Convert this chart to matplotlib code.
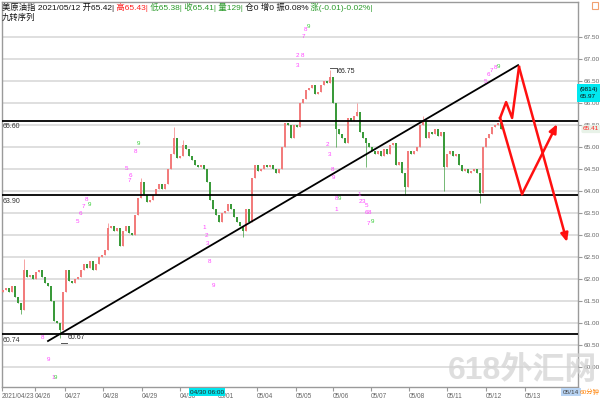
import matplotlib
matplotlib.use("Agg")
import matplotlib.pyplot as plt
from matplotlib.patches import Rectangle

plt.rcParams['font.family'] = ['Liberation Sans', 'Noto Sans CJK SC', 'DejaVu Sans']

# --- hourly closes, 2021/04/23 .. 2021/05/12 (bar index = position) ---
closes = [
    # 04/23 - 04/28
    61.75, 61.80, 61.70, 61.85, 61.60, 61.45, 61.30, 62.20, 62.05, 62.10,
    62.00, 62.15, 62.20, 62.05, 61.90, 61.85, 61.50, 61.05, 61.00, 60.85,
    61.70, 62.20, 61.95, 61.90, 62.00, 62.05, 62.20, 62.35, 62.25, 62.40,
    62.20, 62.35, 62.50, 62.55, 62.65, 63.15, 63.20, 63.10, 63.15, 62.75,
    63.10, 63.20, 63.05,
    # 04/28 - 05/04
    63.00, 63.45, 63.85, 64.20, 63.90, 63.75, 63.80, 63.90, 64.05, 64.15,
    64.05, 64.15, 64.50, 64.85, 65.20, 64.75, 64.80, 65.05, 64.95, 64.80,
    64.70, 64.60, 64.55, 64.60, 64.50, 64.20, 63.80, 63.60, 63.45, 63.30,
    63.50, 63.55, 63.70, 63.60, 63.40, 63.30, 63.20, 63.10, 63.60, 63.30,
    64.30, 64.60, 64.45,
    # 05/04 - 05/08
    64.50, 64.60, 64.55, 64.60, 64.50, 64.40, 64.50, 65.00, 65.55, 65.50,
    65.20, 65.50, 65.45, 66.00, 66.10, 66.30, 66.35, 66.40, 66.20, 66.25,
    66.40, 66.50, 66.45, 66.60, 66.00, 65.40, 65.30, 65.20, 65.10, 65.65,
    65.60, 65.70, 65.80, 65.35, 65.20, 65.10, 65.00, 64.90, 64.85, 64.90,
    64.80, 64.95, 64.85,
    # 05/08 - 05/12
    65.05, 65.10, 64.60, 64.65, 64.40, 64.10, 64.90, 64.85, 64.90, 65.00,
    65.50, 65.60, 65.20, 65.35, 65.30, 65.40, 65.25, 65.35, 64.55, 64.85,
    64.90, 64.80, 64.85, 64.60, 64.45, 64.50, 64.40, 64.45, 64.50, 64.40,
    63.95, 65.00, 65.20, 65.30, 65.45, 65.50, 65.55, 65.41,
]
first_open = 61.70

# notable wick extremes: bar -> price
wick_high = {7: 62.45, 35: 63.27, 46: 64.30, 57: 65.45, 60: 65.15,
             109: 66.75, 118: 66.00, 140: 65.70}
wick_low = {6: 61.20, 19: 60.67, 80: 62.95, 111: 65.00, 121: 64.55,
            134: 63.90, 147: 64.00, 159: 63.73}

# support / resistance lines
level_values = [65.60, 63.90, 60.74]
level_labels = ['65.60', '63.90', '60.74']

# trend line and projection paths (bar, price)
trend_x = [15.0, 171.7]
trend_y = [60.59, 66.86]
proj_a_x = [165.7, 167.7, 169.7, 172.0, 188.0]
proj_a_y = [65.66, 66.02, 65.66, 66.82, 62.84]
proj_b_x = [165.7, 173.0, 184.7]
proj_b_y = [65.66, 63.93, 65.52]

price_ticks = [60.0, 60.5, 61.0, 61.5, 62.0, 62.5, 63.0, 63.5, 64.0, 64.5,
               65.0, 65.5, 66.0, 66.5, 67.0, 67.5]
date_pos = [-0.3, 10.7, 20.7, 33.3, 46.3, 59.0, 71.7, 84.7, 97.7, 110.0,
            122.7, 135.3, 148.0, 161.0, 174.0]
date_labels = ['2021/04/23', '04/26', '04/27', '04/28', '04/29', '04/30',
               '05/01', '05/04', '05/05', '05/06', '05/07', '05/08',
               '05/11', '05/12', '05/13']

# nine-turn sequence marks (bar, price, text, green?)
td_marks = [
    (13.3, 60.66, '8', 0), (15.0, 60.18, '9', 0), (16.7, 59.77, '1', 0), (17.4, 59.77, '9', 1),
    (24.7, 63.30, '5', 0), (25.7, 63.48, '6', 0), (26.7, 63.64, '7', 0), (27.7, 63.80, '8', 0),
    (28.7, 63.70, '9', 1),
    (41.3, 64.52, '5', 0), (42.0, 64.23, '7', 0), (42.3, 64.36, '6', 0), (44.0, 64.89, '8', 0),
    (45.0, 65.09, '9', 1),
    (67.0, 63.16, '1', 0), (67.7, 62.98, '2', 0), (68.3, 62.80, '3', 0), (69.0, 62.39, '8', 0),
    (70.0, 61.86, '9', 0),
    (98.3, 67.07, '2', 0), (99.7, 67.07, '8', 0), (98.3, 66.86, '3', 0),
    (100.0, 67.52, '7', 0), (100.7, 67.66, '8', 0), (101.7, 67.73, '9', 1),
    (108.3, 65.05, '2', 0), (108.7, 64.84, '3', 0), (109.7, 64.48, '8', 0), (110.3, 64.30, '9', 0),
    (111.3, 63.84, '8', 0), (112.3, 63.84, '9', 1), (111.0, 63.59, '1', 0),
    (118.7, 63.93, '1', 0), (119.3, 63.77, '2', 0), (120.3, 63.75, '3', 0), (121.3, 63.66, '5', 0),
    (121.0, 63.52, '6', 0), (122.3, 63.52, '8', 0), (121.7, 63.27, '7', 0), (123.0, 63.30, '9', 1),
    (160.7, 66.48, '5', 0), (161.7, 66.64, '6', 0), (162.7, 66.73, '7', 0), (164.0, 66.80, '8', 0),
    (165.0, 66.84, '9', 1),
]

header_parts = [('美原油指 2021/05/12 开65.42|', '#111111'), (' 高65.43|', '#ff2020'),
                (' 低65.38|', '#2a9a2a'), (' 收65.41|', '#2a9a2a'), (' 量129|', '#2a9a2a'),
                (' 仓0 增0 振0.08%', '#111111'), (' 涨(-0.01)-0.02%|', '#2a9a2a')]

fig = plt.figure(figsize=(6, 4), dpi=100)
ax = fig.add_axes([2 / 600, 13 / 400, 576 / 600, 385 / 400])
ax.set_xlim(-1 / 3, 575 / 3)
ax.set_ylim(59.545, 68.295)

for s in ax.spines.values():
    s.set_color('#9a9a9a')
    s.set_linewidth(1.0)

# grid
for p in price_ticks:
    ax.axhline(p, color='#d9d9d9', lw=1.2, zorder=0)

# candles
opens = [first_open] + closes[:-1]
xs = list(range(len(closes)))
up_col, dn_col = '#f27c7c', '#3a9a3a'
cols, bots, hts, highs, lows = [], [], [], [], []
for i, (o, c) in enumerate(zip(opens, closes)):
    cols.append(up_col if c >= o else dn_col)
    bots.append(min(o, c))
    hts.append(max(abs(c - o), 0.015))
    highs.append(wick_high.get(i, max(o, c)))
    lows.append(wick_low.get(i, min(o, c)))
ax.vlines(xs, lows, highs, colors=cols, lw=0.7, alpha=0.7, zorder=2)
ax.bar(xs, hts, bottom=bots, width=0.7, color=cols, linewidth=0, zorder=3)

# levels
for v, lab in zip(level_values, level_labels):
    ax.axhline(v, color='black', lw=1.3, zorder=4)
    ax.text(0.0, v - 0.06, lab, fontsize=5, color='#333333', va='top', ha='left',
            zorder=5)

ax.plot(trend_x, trend_y, color='black', lw=1.3, zorder=5)

# peak / trough labels
ax.plot([109, 111.3], [66.80, 66.80], color='#555555', lw=0.7, zorder=5)
ax.plot([111.3, 111.3], [66.80, 66.70], color='#555555', lw=0.7, zorder=5)
ax.text(111.6, 66.72, '66.75', fontsize=5, color='#222222', va='center', zorder=6)
ax.plot([19.3, 21.3], [60.55, 60.55], color='#555555', lw=0.7, zorder=5)
ax.text(21.5, 60.67, '60.67', fontsize=5, color='#222222', va='center', zorder=6)

# projections
arrow = dict(arrowstyle='-|>,head_width=0.22,head_length=0.5',
             color='#ff1010', lw=1.8, shrinkA=0, shrinkB=0)
ax.plot(proj_a_x[:-1], proj_a_y[:-1], color='#ff1010', lw=1.8, zorder=6)
ax.annotate('', xy=(proj_a_x[-1], proj_a_y[-1]), xytext=(proj_a_x[-2], proj_a_y[-2]),
            arrowprops=arrow, zorder=6)
ax.plot(proj_b_x[:-1], proj_b_y[:-1], color='#ff1010', lw=1.8, zorder=6)
ax.annotate('', xy=(proj_b_x[-1], proj_b_y[-1]), xytext=(proj_b_x[-2], proj_b_y[-2]),
            arrowprops=arrow, zorder=6)

for bx, by, t, g in td_marks:
    ax.text(bx, by, t, fontsize=4.5, color='#33cc33' if g else '#ff44ff',
            ha='center', va='center', zorder=7)

# axes ticks
ax.yaxis.tick_right()
ax.set_yticks(price_ticks, ['%.2f' % p for p in price_ticks])
ax.tick_params(axis='y', length=3, color='#999999', labelsize=4.6, labelcolor='#666666', pad=1.2)
ax.set_xticks(date_pos, date_labels)
ax.tick_params(axis='x', length=3, color='#999999', labelsize=4.7, labelcolor='#666666', pad=1)
for lab in ax.get_xticklabels():
    lab.set_ha('left')

# header, chained so the colours sit side by side
prev = fig.text(2 / 600, 1 - 10 / 400, header_parts[0][0], fontsize=6,
                color=header_parts[0][1])
for s, c in header_parts[1:]:
    prev = ax.annotate(s, xy=(1, 0), xycoords=prev, fontsize=6, color=c,
                       va='bottom', ha='left', annotation_clip=False)
fig.text(2 / 600, 1 - 20 / 400, '九转序列', fontsize=6, color='#111111')

# right side boxes
fig.text(580 / 600, 1 - 93 / 400, '(9814)\n65.97', fontsize=4.6, color='#111111',
         va='center', ha='left', linespacing=1.5,
         bbox=dict(boxstyle='square,pad=0.4', fc='#00e8f0', ec='none'))
fig.text(583 / 600, 1 - 129 / 400, '65.41', fontsize=4.6, color='#ff2020',
         va='center', ha='left', zorder=5,
         bbox=dict(boxstyle='round,pad=0.25', fc='#e8f2e8', ec='none'))
fig.patches.append(Rectangle((592 / 600, 1 - 9 / 400), 6 / 600, 7 / 400, fill=False,
                             ec='#f0a070', lw=0.8, transform=fig.transFigure, figure=fig))

# bottom boxes (cursor date covers the tick labels beneath it)
fig.text(190 / 600, 1 - 392 / 400, '04/30 06:00', fontsize=4.6, color='#222222',
         va='center', ha='left', zorder=5,
         bbox=dict(boxstyle='square,pad=0.2', fc='#00e5ee', ec='none'))
fig.text(563 / 600, 1 - 392 / 400, '05/14', fontsize=4.6, color='#444444',
         va='center', ha='left',
         bbox=dict(boxstyle='square,pad=0.25', fc='#b8d4f4', ec='none'))
fig.text(580 / 600, 1 - 392 / 400, '60分钟', fontsize=4.6, color='#ff8000',
         va='center', ha='left')

# watermark
fig.text(597 / 600, 1 - 371 / 400, '618外汇网', fontsize=23, color='#d4d4d4',
         weight='bold', ha='right', va='center', alpha=0.75,
         family=['Liberation Sans', 'Noto Sans CJK SC'])

fig.savefig('out.png', dpi=100)
